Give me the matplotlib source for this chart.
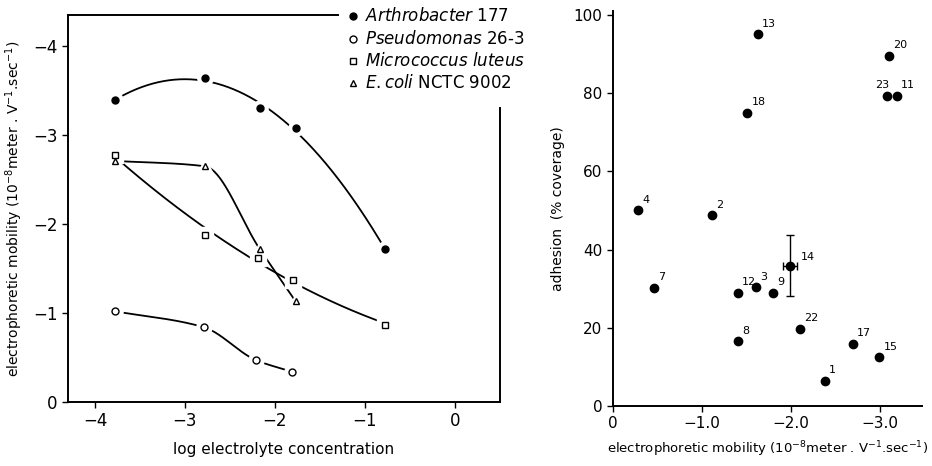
import numpy as np
import matplotlib
matplotlib.use("Agg")
import matplotlib.pyplot as plt

plt.rcParams['font.family'] = ['DejaVu Sans']
plt.rcParams['mathtext.fontset'] = 'dejavusans'

# left panel: mobility vs log electrolyte concentration (mobility plotted negative)
arth_x = [-3.78, -2.78, -2.17, -1.77, -0.78]
arth_y = [-3.39, -3.64, -3.30, -3.08, -1.72]
pseu_x = [-3.78, -2.79, -2.21, -1.81]
pseu_y = [-1.02, -0.84, -0.47, -0.34]
micr_x = [-3.78, -2.78, -2.19, -1.80, -0.78]
micr_y = [-2.78, -1.88, -1.62, -1.37, -0.87]
ecoli_x = [-3.78, -2.78, -2.17, -1.77]
ecoli_y = [-2.71, -2.65, -1.72, -1.13]

legend_labels = [r"$\it{Arthrobacter}$ 177", r"$\it{Pseudomonas}$ 26-3",
                 r"$\it{Micrococcus\ luteus}$", r"$\it{E.coli}$ NCTC 9002"]

# right panel: adhesion vs mobility
strain = ["13", "20", "23", "11", "18", "4", "2", "7", "12", "3", "9", "14",
          "8", "22", "17", "15", "1"]
mob = [-1.63, -3.10, -3.08, -3.19, -1.51, -0.28, -1.11, -0.46, -1.40, -1.61,
       -1.80, -1.99, -1.40, -2.10, -2.69, -2.99, -2.38]
adh = [95.1, 89.5, 79.3, 79.3, 75.0, 50.1, 48.8, 30.2, 28.9, 30.4,
       28.9, 35.8, 16.6, 19.7, 15.9, 12.5, 6.4]
err14_y = 7.8
err14_x = 0.08

fig = plt.figure(figsize=(9.32, 4.66), dpi=100)
ax = fig.add_axes([68 / 932, 1 - 402 / 466, (500 - 68) / 932, (402 - 15) / 466])
ax2 = fig.add_axes([613 / 932, 1 - 406 / 466, (922 - 613) / 932, (406 - 11) / 466])


def pchip(xs, ys, xx):
    # monotone piecewise cubic through the points (Fritsch-Carlson)
    x = np.asarray(xs, float)
    y = np.asarray(ys, float)
    h = np.diff(x)
    d = np.diff(y) / h
    m = np.zeros_like(y)
    m[0], m[-1] = d[0], d[-1]
    for i in range(1, len(x) - 1):
        if d[i - 1] * d[i] > 0:
            w1 = 2 * h[i] + h[i - 1]
            w2 = h[i] + 2 * h[i - 1]
            m[i] = (w1 + w2) / (w1 / d[i - 1] + w2 / d[i])
    k = np.clip(np.searchsorted(x, xx) - 1, 0, len(x) - 2)
    t = (xx - x[k]) / h[k]
    h00 = 2 * t**3 - 3 * t**2 + 1
    h10 = t**3 - 2 * t**2 + t
    h01 = -2 * t**3 + 3 * t**2
    h11 = t**3 - t**2
    return h00 * y[k] + h10 * h[k] * m[k] + h01 * y[k + 1] + h11 * h[k] * m[k + 1]


def trend(a, xs, ys, mk, fill, deg=None):
    xx = np.linspace(min(xs), max(xs), 300)
    if deg:
        yy = np.polyval(np.polyfit(xs, ys, deg), xx)
    else:
        yy = pchip(xs, ys, xx)
    a.plot(xx, yy, color='black', lw=1.3, zorder=2)
    a.plot(xs, ys, ls='none', marker=mk, ms=11, color='white', mec='white', zorder=3)
    a.plot(xs, ys, ls='none', marker=mk, ms=5, mfc=fill, mec='black', mew=1.0, zorder=4)


trend(ax, arth_x, arth_y, 'o', 'black', deg=2)
trend(ax, pseu_x, pseu_y, 'o', 'white')
trend(ax, micr_x, micr_y, 's', 'white', deg=2)
trend(ax, ecoli_x, ecoli_y, '^', 'white')

ax.set_xlim(-4.3, 0.5)
ax.set_ylim(0, -4.35)
ax.set_xticks([-4, -3, -2, -1, 0])
ax.set_xticklabels(["\u22124", "\u22123", "\u22122", "\u22121", "0"])
ax.set_yticks([0, -1, -2, -3, -4])
ax.set_yticklabels(["0", "\u22121", "\u22122", "\u22123", "\u22124"])
ax.tick_params(direction='out', length=4, width=1, labelsize=12)
ax.spines['top'].set_bounds(-4.3, -1.3)
ax.spines['right'].set_bounds(0, -3.3)
for s in ax.spines.values():
    s.set_linewidth(1.4)
ax.set_xlabel("log electrolyte concentration", fontsize=11, labelpad=8)
ax.set_ylabel(r"electrophoretic mobility (10$^{-8}$meter . V$^{-1}$.sec$^{-1}$)",
              fontsize=10, labelpad=6)

# legend drawn by hand
mks = [('o', 'black'), ('o', 'white'), ('s', 'white'), ('^', 'white')]
rows = [16, 39, 61, 83]
for (mk, fc), lab, r in zip(mks, legend_labels, rows):
    fy = 1 - r / 466
    fig.lines.append(plt.Line2D([353 / 932], [fy], transform=fig.transFigure,
                                marker=mk, ms=5, mfc=fc, mec='black', ls='none'))
    fig.text(365 / 932, fy, lab, fontsize=12, va='center', ha='left')

# right panel
ax2.plot(mob, adh, ls='none', marker='o', ms=6, color='black', zorder=3)
ax2.errorbar([mob[11]], [adh[11]], yerr=err14_y, xerr=err14_x, fmt='none',
             ecolor='black', elinewidth=1, capsize=3)
for s, x, y in zip(strain, mob, adh):
    dx, dy = 3, 4
    if s == "23":
        dx = -9
    if s == "14":
        dx, dy = 8, 3
    ax2.annotate(s, (x, y), xytext=(dx, dy), textcoords='offset points',
                 fontsize=8, ha='left', va='bottom')

ax2.set_xlim(0, -3.47)
ax2.set_ylim(0, 101)
ax2.set_xticks([0, -1, -2, -3])
ax2.set_xticklabels(["0", "\u22121.0", "\u22122.0", "\u22123.0"])
ax2.set_yticks([0, 20, 40, 60, 80, 100])
ax2.spines['top'].set_visible(False)
ax2.spines['right'].set_visible(False)
for s in ax2.spines.values():
    s.set_linewidth(1.4)
ax2.tick_params(direction='out', length=4, width=1, labelsize=11)
ax2.set_xlabel(r"electrophoretic mobility (10$^{-8}$meter . V$^{-1}$.sec$^{-1}$)",
               fontsize=9.5, labelpad=6)
ax2.set_ylabel("adhesion  (% coverage)", fontsize=10, labelpad=6)

fig.savefig("out.png", dpi=100)
